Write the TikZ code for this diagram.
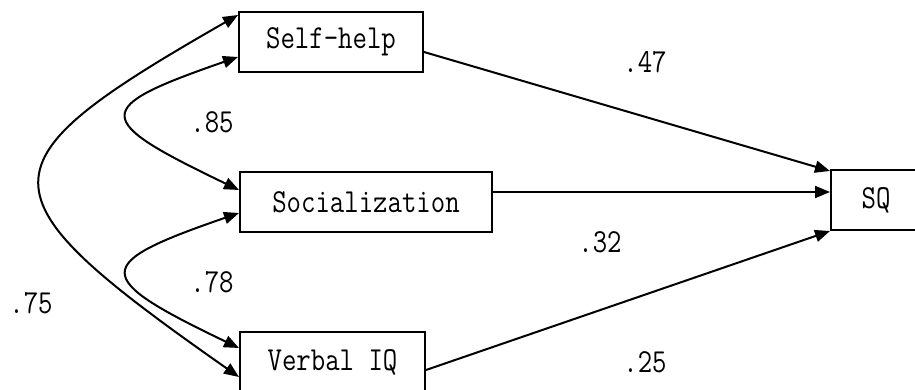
\documentclass[tikz,border=0pt]{standalone}
\usepackage{graphicx}
\usetikzlibrary{arrows.meta,calc}
\newcommand{\tallt}[1]{\scalebox{1}[1.2]{#1}}
\begin{document}
\begin{tikzpicture}[x=1pt,y=-1pt,
  var/.style={draw,line width=2pt,rectangle,inner sep=0pt,minimum height=60pt,
    font=\ttfamily\fontsize{28}{32}\selectfont},
  coef/.style={inner sep=0pt,font=\ttfamily\fontsize{28}{32}\selectfont},
  path/.style={line width=2pt,-{Triangle[length=15pt,width=12pt]}},
  cov/.style={line width=2pt,{Triangle[length=15pt,width=12pt]}-{Triangle[length=15pt,width=12pt]}}]
\useasboundingbox (0,0) rectangle (915,390);
\node[var,minimum width=184pt] (sh) at (331,42) {\tallt{Self-help}};
\node[var,minimum width=252pt] (so) at (366,202) {\tallt{Socialization}};
\node[var,minimum width=185pt] (vq) at (332.5,362) {\tallt{Verbal IQ}};
\node[var,minimum width=90pt] (sq) at (876,200) {\tallt{SQ}};
% paths
\draw[path] ($(sh.east)+(0,10)$) -- ($(sq.north west)+(0,2)$);
\draw[path] ($(so.east)+(0,-10)$) -- ($(sq.west)+(0,-8)$);
\draw[path] ($(vq.east)+(0,8)$) -- (sq.south west);
% covariances
\draw[cov] ($(sh.west)+(0,-27)$) .. controls +(-262,150) and +(-264,-185) .. ($(vq.west)+(0,15)$);
\draw[cov] ($(sh.west)+(0,15)$) .. controls +(-147,51) and +(-148,-71) .. ($(so.west)+(0,-12)$);
\draw[cov] ($(so.west)+(0,11)$) .. controls +(-148,51) and +(-148,-71) .. ($(vq.west)+(0,-14)$);
% coefficients
\node[coef] (c47) at (645,62) {\tallt{.47}};
\node[coef] (c32) at (600,242) {\tallt{.32}};
\node[coef] (c25) at (645,362) {\tallt{.25}};
\node[coef] (c85) at (212,122) {\tallt{.85}};
\node[coef] (c78) at (212,282) {\tallt{.78}};
\node[coef] (c75) at (31,303) {\tallt{.75}};
\end{tikzpicture}
\end{document}
